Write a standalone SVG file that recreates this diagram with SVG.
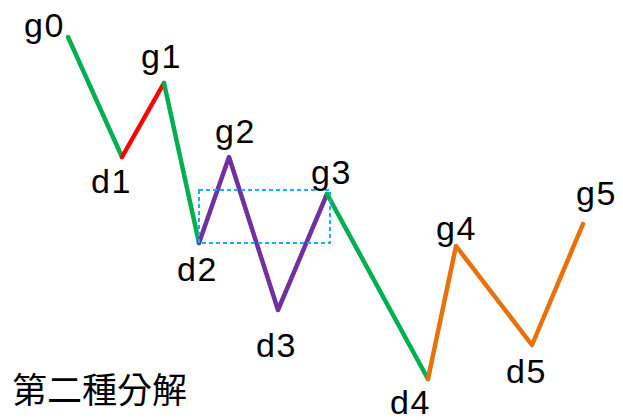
<svg xmlns="http://www.w3.org/2000/svg" width="623" height="420" viewBox="0 0 623 420">
<style>
.lbl{font-family:"Liberation Sans",Arial,sans-serif;font-size:34px;letter-spacing:1.5px;fill:#000}
.seg{fill:none;stroke-width:4.5;stroke-linecap:round;stroke-linejoin:round}
.g{stroke:#00b050}.r{stroke:#ff0000}.p{stroke:#7030a0}.o{stroke:#e8710a}
.box{fill:none;stroke:#1ab0f0;stroke-width:2;stroke-dasharray:4 3}
.cjk{font-family:"Liberation Sans","Noto Sans CJK TC",sans-serif;font-size:35px;fill:#000}
</style>
<rect width="623" height="420" fill="#fff"/>
<g id="connectors">
<polyline class="seg g" points="68,37 122,157"/>
<polyline class="seg r" points="122,157 164,83"/>
<polyline class="seg g" points="164,83 199,243"/>
<polyline class="seg p" points="199,243 229,157 278,310 327,194"/>
<polyline class="seg g" points="327,194 428,379"/>
<polyline class="seg o" points="428,379 456,246 532,345 583,224"/>
</g>
<rect id="box" class="box" x="199" y="190" width="131" height="53"/>
<g id="g0"><text class="lbl" x="24" y="37">g0</text></g>
<g id="d1"><text class="lbl" x="91" y="193">d1</text></g>
<g id="g1"><text class="lbl" x="141" y="68">g1</text></g>
<g id="g2"><text class="lbl" x="215" y="143">g2</text></g>
<g id="d2"><text class="lbl" x="177" y="281">d2</text></g>
<g id="g3"><text class="lbl" x="311" y="184">g3</text></g>
<g id="d3"><text class="lbl" x="256" y="357">d3</text></g>
<g id="d4"><text class="lbl" x="390" y="414">d4</text></g>
<g id="g4"><text class="lbl" x="436" y="240">g4</text></g>
<g id="d5"><text class="lbl" x="506" y="383">d5</text></g>
<g id="g5"><text class="lbl" x="576" y="205">g5</text></g>
<g id="caption"><text class="cjk" x="12" y="403">第二種分解</text></g>
</svg>
